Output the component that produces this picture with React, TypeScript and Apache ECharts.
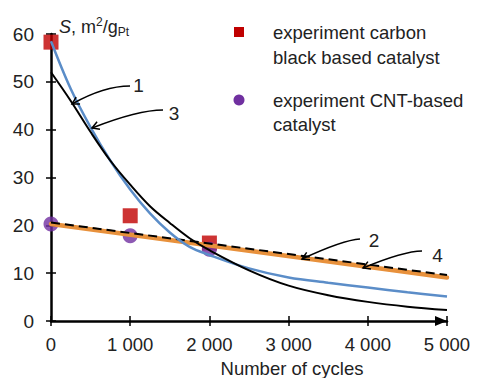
import React, { useEffect, useRef } from 'react';
import * as echarts from 'echarts';

// ---- data ----
const cycles = [0, 250, 500, 750, 1000, 1250, 1500, 1750, 2000, 2500, 3000, 3500, 4000, 4500, 5000];
const model1 = [52, 46, 39.5, 33.5, 28.5, 24, 20.5, 17.3, 14.8, 10.6, 7.4, 5.4, 4.0, 3.0, 2.3];
const model3 = [58.5, 48.5, 40.5, 33.5, 27.5, 22.5, 18.5, 15.5, 13.8, 11.0, 9.1, 8.0, 7.0, 6.0, 5.1];
const lineCycles = [0, 5000];
const model2 = [20.3, 9.1];
const model4 = [20.6, 9.6];
const expCycles = [0, 1000, 2000];
const carbonBlack = [58.3, 22, 16.3];
const cntBased = [20.3, 17.8, 15];
const xTickLabels = ['0', '1 000', '2 000', '3 000', '4 000', '5 000'];
const yTickLabels = ['0', '10', '20', '30', '40', '50', '60'];
const legendNames = ['experiment carbon\nblack based catalyst', 'experiment CNT-based\ncatalyst'];
const curveLabels = ['1', '2', '3', '4'];

const FONT = '"Liberation Sans", Arial, sans-serif';
const TXT = '#222';

const pairs = (xs: number[], ys: number[]) => xs.map((x, i) => [x, ys[i]]);

function arrow(sx: number, sy: number, cx: number, cy: number, tx: number, ty: number) {
  const dx = tx - cx, dy = ty - cy;
  const len = Math.sqrt(dx * dx + dy * dy);
  const ux = dx / len, uy = dy / len;
  const a = 7, w = 4;
  const bx = tx - ux * a, by = ty - uy * a;
  return [
    {
      type: 'bezierCurve',
      shape: { x1: sx, y1: sy, cpx1: cx, cpy1: cy, x2: tx, y2: ty },
      style: { stroke: '#000', lineWidth: 1.5, fill: 'none' },
      z: 100,
    },
    {
      type: 'polyline',
      shape: { points: [[bx - uy * w, by + ux * w], [tx, ty], [bx + uy * w, by - ux * w]] },
      style: { stroke: '#000', lineWidth: 1.5, fill: 'none' },
      z: 100,
    },
  ];
}

export default function App() {
  const ref = useRef<HTMLDivElement>(null);
  useEffect(() => {
    if (!ref.current) return;
    const chart = echarts.init(ref.current, null, { renderer: 'svg' });
    const grid = { left: 51, top: 34, width: 396, height: 287 };
    const xBase = { type: 'value', min: 0, max: 5000, interval: 1000, gridIndex: 0 };
    const yBase = { type: 'value', min: 0, max: 60, interval: 10, gridIndex: 0 };
    const labelText = (txt: string, x: number, y: number) => ({
      type: 'text', x, y, z: 100,
      style: { text: txt, font: `19px ${FONT}`, fill: TXT, align: 'center', verticalAlign: 'middle' },
    });
    chart.setOption({
      animation: false,
      backgroundColor: '#fff',
      grid,
      xAxis: [
        {
          ...xBase,
          position: 'bottom',
          axisLine: {
            show: true, onZero: false,
            lineStyle: { color: '#000', width: 2.5 },
            symbol: ['none', 'triangle'], symbolSize: [10, 12], symbolOffset: [0, -6],
          },
          axisTick: { show: true, inside: false, length: 5, lineStyle: { color: '#000', width: 1.5 } },
          axisLabel: {
            margin: 14, fontSize: 18.5, fontFamily: FONT, color: TXT,
            formatter: (v: number) => xTickLabels[Math.round(v / 1000)] ?? '',
          },
          splitLine: { show: false },
        },
        {
          ...xBase,
          position: 'bottom',
          axisLine: { show: false },
          axisTick: { show: true, inside: true, length: 5, lineStyle: { color: '#000', width: 1.5 } },
          axisLabel: { show: false },
          splitLine: { show: false },
        },
      ],
      yAxis: [
        {
          ...yBase,
          position: 'left',
          axisLine: { show: true, onZero: false, lineStyle: { color: '#000', width: 2.5 } },
          axisTick: { show: true, inside: false, length: 5, lineStyle: { color: '#000', width: 1.5 } },
          axisLabel: {
            margin: 17, fontSize: 19, fontFamily: FONT, color: TXT,
            formatter: (v: number) => yTickLabels[Math.round(v / 10)] ?? '',
          },
          splitLine: { show: false },
        },
        {
          ...yBase,
          position: 'left',
          axisLine: { show: false },
          axisTick: { show: true, inside: true, length: 5, lineStyle: { color: '#000', width: 1.5 } },
          axisLabel: { show: false },
          splitLine: { show: false },
        },
      ],
      series: [
        {
          type: 'scatter', name: 'carbon', data: pairs(expCycles, carbonBlack),
          symbol: 'rect', symbolSize: 15, itemStyle: { color: '#C00000' }, z: 1,
        },
        {
          type: 'scatter', name: 'cnt', data: pairs(expCycles, cntBased),
          symbol: 'circle', symbolSize: 15, itemStyle: { color: '#7030A0' }, z: 1,
        },
        {
          type: 'line', name: '2', data: pairs(lineCycles, model2), showSymbol: false,
          lineStyle: { color: '#E8913C', width: 4.5, cap: 'round' }, z: 3,
        },
        {
          type: 'line', name: '4', data: pairs(lineCycles, model4), showSymbol: false,
          lineStyle: { color: '#000', width: 2, type: [9, 5] }, z: 4,
        },
        {
          type: 'line', name: '3', data: pairs(cycles, model3), showSymbol: false, smooth: 0.35,
          lineStyle: { color: '#5B8DC8', width: 2.5 }, z: 5,
        },
        {
          type: 'line', name: '1', data: pairs(cycles, model1), showSymbol: false, smooth: 0.35,
          lineStyle: { color: '#000', width: 2 }, z: 6,
        },
      ],
      graphic: [
        {
          type: 'text', x: 59, y: 27, z: 100,
          style: {
            text: '{i|S}{n|, m}{sup|2}{n|/g}{sub|Pt}',
            verticalAlign: 'middle', align: 'left',
            rich: {
              i: { fontSize: 18, fontStyle: 'italic', fontFamily: FONT, fill: TXT, lineHeight: 22 },
              n: { fontSize: 18, fontFamily: FONT, fill: TXT, lineHeight: 22 },
              sup: { fontSize: 12, fontFamily: FONT, fill: TXT, lineHeight: 12, verticalAlign: 'top' },
              sub: { fontSize: 12, fontFamily: FONT, fill: TXT, lineHeight: 12, verticalAlign: 'bottom' },
            },
          },
        },
        {
          type: 'text', x: 292, y: 368, z: 100,
          style: { text: 'Number of cycles', font: `18.5px ${FONT}`, fill: TXT, align: 'center', verticalAlign: 'middle' },
        },
        { type: 'rect', shape: { x: 234, y: 27, width: 10, height: 10 }, style: { fill: '#C00000' }, z: 100 },
        { type: 'circle', shape: { cx: 239, cy: 100, r: 5.5 }, style: { fill: '#7030A0' }, z: 100 },
        {
          type: 'text', x: 273, y: 44.5, z: 100,
          style: { text: legendNames[0], font: `18.5px ${FONT}`, fill: TXT, lineHeight: 25, align: 'left', verticalAlign: 'middle' },
        },
        {
          type: 'text', x: 273, y: 112, z: 100,
          style: { text: legendNames[1], font: `18.5px ${FONT}`, fill: TXT, lineHeight: 24, align: 'left', verticalAlign: 'middle' },
        },
        labelText(curveLabels[0], 138.5, 85),
        labelText(curveLabels[2], 174, 113),
        labelText(curveLabels[1], 374, 240),
        labelText(curveLabels[3], 437.5, 255),
        ...arrow(130, 86, 104, 86, 72, 104),
        ...arrow(163, 110, 138, 110, 92, 128),
        ...arrow(360, 239, 343, 240, 302, 259),
        ...arrow(422, 251, 404, 251, 363, 268),
      ],
    });
    return () => chart.dispose();
  }, []);
  return (
    <div
      ref={ref}
      style={{ position: 'fixed', left: 0, top: 0, width: 482, height: 378, background: '#fff' }}
    />
  );
}
